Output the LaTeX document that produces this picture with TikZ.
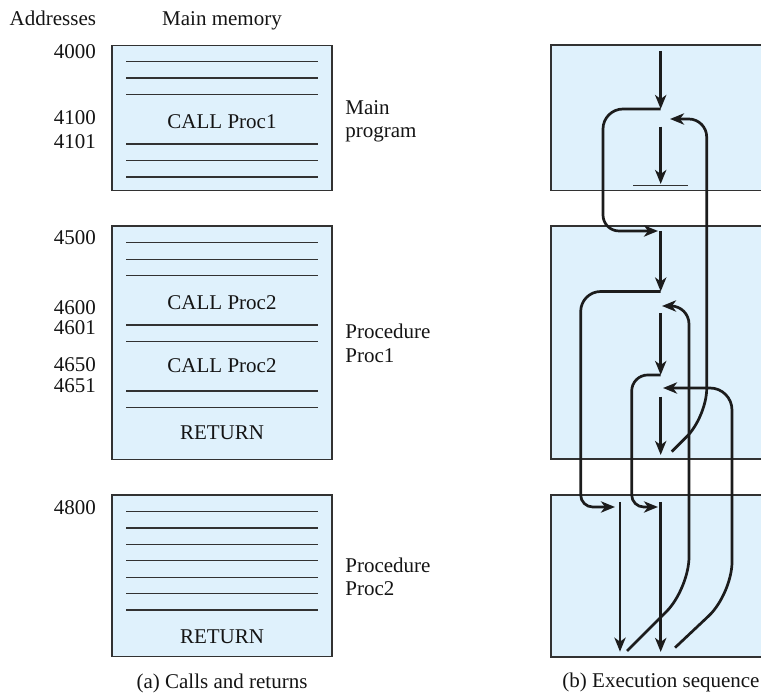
\documentclass[tikz,border=0pt]{standalone}
\usepackage{fontspec}
\setmainfont{Liberation Serif}
\usetikzlibrary{arrows.meta}
\definecolor{memfill}{RGB}{223,241,252}
\definecolor{edgegray}{RGB}{50,50,50}
\definecolor{flowcol}{RGB}{28,28,28}
\begin{document}
\begin{tikzpicture}[x=0.5pt,y=-0.5pt,
  txt/.style={inner sep=0pt,font=\fontsize{10.5}{12.6}\selectfont,text=black!92},
  membox/.style={fill=memfill,draw=edgegray,line width=0.7pt},
  memfillonly/.style={fill=memfill},
  boxedge/.style={draw=edgegray,line width=0.7pt},
  memline/.style={draw=edgegray,line width=0.75pt},
  flowline/.style={draw=flowcol,line width=1.35pt,-{Stealth[length=7pt,width=5.6pt,inset=2pt]}},
  plainflow/.style={draw=flowcol,line width=1.35pt}]
\useasboundingbox (0,0) rectangle (761,694);
\clip (0,0) rectangle (761,694);

% ---------- (a) left column ----------
\node[txt,anchor=base west] (haddr) at (9.3,26) {Addresses};
\node[txt,anchor=base] (hmem) at (222,26) {Main memory};

% box 1
\draw[membox] (112,45.3) rectangle (332,190.7);
\foreach \yy in {61.7,78,94.7,144,160.3,177}
  \draw[memline] (126,\yy) -- (317.7,\yy);
\node[txt,anchor=base] (call1) at (222,128.3) {CALL Proc1};
\node[txt,anchor=base west] (a4000) at (53.5,58.3) {4000};
\node[txt,anchor=base west] (a4100) at (53.5,125) {4100};
\node[txt,anchor=base west] (a4101) at (53.5,148.3) {4101};
\node[txt,anchor=base west] (lmain1) at (345,114.3) {Main};
\node[txt,anchor=base west] (lmain2) at (345,137.7) {program};

% box 2
\draw[membox] (112,226) rectangle (332,459.3);
\foreach \yy in {242.7,259.3,275.7,325,341.3,391,407.3}
  \draw[memline] (126,\yy) -- (317.7,\yy);
\node[txt,anchor=base] (call2a) at (222,309.3) {CALL Proc2};
\node[txt,anchor=base] (call2b) at (222,372.7) {CALL Proc2};
\node[txt,anchor=base] (ret1) at (222,440) {RETURN};
\node[txt,anchor=base west] (a4500) at (53.5,245) {4500};
\node[txt,anchor=base west] (a4600) at (53.5,314.3) {4600};
\node[txt,anchor=base west] (a4601) at (53.5,334.3) {4601};
\node[txt,anchor=base west] (a4650) at (53.5,371.7) {4650};
\node[txt,anchor=base west] (a4651) at (53.5,392.7) {4651};
\node[txt,anchor=base west] (lp1a) at (345,339) {Procedure};
\node[txt,anchor=base west] (lp1b) at (345,362.7) {Proc1};

% box 3
\draw[membox] (112,495) rectangle (332,656.7);
\foreach \yy in {511.7,528,544.5,560.7,577.3,593.7,610}
  \draw[memline] (126,\yy) -- (317.7,\yy);
\node[txt,anchor=base] (ret2) at (222,644) {RETURN};
\node[txt,anchor=base west] (a4800) at (53.5,515) {4800};
\node[txt,anchor=base west] (lp2a) at (345,572.3) {Procedure};
\node[txt,anchor=base west] (lp2b) at (345,596) {Proc2};

\node[txt,anchor=base] (capa) at (222,689) {(a) Calls and returns};

% ---------- (b) right column ----------
\fill[memfillonly] (551,45) rectangle (770,190.7);
\draw[boxedge] (770,45) -- (551,45) -- (551,190.7) -- (770,190.7);
\fill[memfillonly] (551,226) rectangle (770,459);
\draw[boxedge] (770,226) -- (551,226) -- (551,459) -- (770,459);
\fill[memfillonly] (551,495) rectangle (770,657);
\draw[boxedge] (770,495) -- (551,495) -- (551,657) -- (770,657);

\node[txt,anchor=base] (capb) at (661,688) {(b) Execution sequence};

% coordinates of the execution flow
\coordinate (m0) at (660.7,51);
\coordinate (m1) at (660.7,109);
\coordinate (m2) at (660.7,126.7);
\coordinate (m3) at (660.7,184);
\coordinate (p1in) at (658,231);
\coordinate (p1s) at (660.7,231);
\coordinate (p1c) at (660.7,291.5);
\coordinate (p1r) at (660.7,313);
\coordinate (p1c2) at (660.7,375);
\coordinate (p1r2) at (660.7,396.7);
\coordinate (p1end) at (660.7,455);
\coordinate (q1in) at (615,507);
\coordinate (q1s) at (620,502);
\coordinate (q1end) at (620,651.7);
\coordinate (q2in) at (658,507);
\coordinate (q2s) at (660.7,502);
\coordinate (q2end) at (660.7,652);
\coordinate (r1from) at (671.7,451.7);
\coordinate (r1to) at (670,119);
\coordinate (r2from) at (627,651);
\coordinate (r2to) at (662,306);
\coordinate (r3from) at (675,647.7);
\coordinate (r3to) at (663,388);

% main program
\draw[flowline] (m0) -- (m1);
\draw[flowline] (m2) -- (m3);
\draw[memline] (633,185.3) -- (688,185.3);
\draw[flowline] (m1) [rounded corners=10pt] -- (603,109) [rounded corners=8pt] -- (603,231) -- (p1in);

% proc1
\draw[flowline] (p1s) -- (p1c);
\draw[flowline] (p1r) -- (p1c2);
\draw[flowline] (p1r2) -- (p1end);
\draw[flowline] (p1c) [rounded corners=10pt] -- (580.7,291.5) [rounded corners=6pt] -- (580.7,507) -- (q1in);
\draw[flowline] (p1c2) [rounded corners=8pt] -- (631.7,375) [rounded corners=6pt] -- (631.7,507) -- (q2in);

% proc2
\draw[flowline] (q1s) -- (q1end);
\draw[flowline] (q2s) -- (q2end);

% returns
\draw[flowline] (r1from) [rounded corners=14pt] -- (706.7,416.7) [rounded corners=9pt] -- (706.7,119) -- (r1to);
\draw[flowline] (r2from) [rounded corners=16pt] -- (689,589) [rounded corners=9pt] -- (689,306) -- (r2to);
\draw[flowline] (r3from) [rounded corners=16pt] -- (732,594) [rounded corners=11pt] -- (732,388) -- (r3to);
\end{tikzpicture}
\end{document}
